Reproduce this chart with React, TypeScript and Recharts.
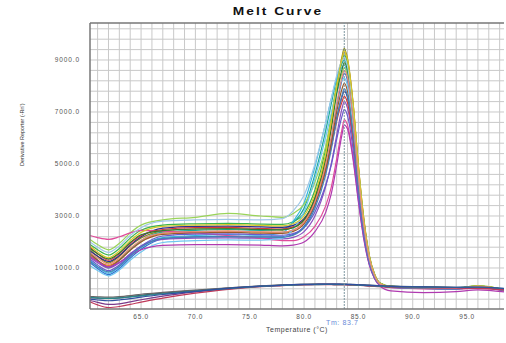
import React from 'react';
import {
  LineChart,
  Line,
  XAxis,
  YAxis,
  ReferenceLine,
} from 'recharts';

// temperature steps (°C) shared by every well
const temps = [
  60.3, 61, 62, 63, 64, 65, 67, 70, 73, 76, 78, 79, 80, 81, 82, 82.5, 83, 83.5,
  83.7, 84, 84.5, 85, 85.5, 86, 86.5, 87, 88, 91, 94, 96, 98.4,
];

// derivative reporter per well, sample wells
const wellA1 = [1700, 1450, 1200, 1450, 1850, 2150, 2420, 2500, 2520, 2480, 2470, 2560, 2850, 3700, 5300, 6600, 8000, 9150, 9450, 9050, 7400, 4950, 2900, 1500, 760, 420, 290, 250, 230, 300, 170];
const wellA2 = [1500, 1280, 1100, 1330, 1700, 2020, 2330, 2400, 2420, 2380, 2370, 2460, 2760, 3600, 5150, 6450, 7900, 9000, 9300, 8950, 7350, 4900, 2850, 1450, 720, 400, 270, 230, 210, 280, 150];
const wellA3 = [1900, 1700, 1500, 1750, 2150, 2450, 2650, 2700, 2720, 2690, 2680, 2780, 3100, 4000, 5600, 6800, 8050, 8950, 9200, 8850, 7200, 4800, 2800, 1450, 730, 410, 300, 260, 240, 310, 180];
const wellA4 = [1600, 1300, 1000, 1300, 1700, 2050, 2380, 2450, 2480, 2450, 2500, 2750, 3300, 4600, 6300, 7300, 8300, 8880, 9000, 8650, 7000, 4650, 2700, 1400, 700, 390, 280, 240, 220, 290, 160];
const wellA5 = [1300, 1050, 800, 1050, 1450, 1800, 2170, 2250, 2280, 2260, 2350, 2800, 3500, 4900, 6600, 7500, 8300, 8730, 8800, 8450, 6850, 4550, 2650, 1380, 690, 380, 270, 230, 210, 280, 150];
const wellA6 = [2100, 1900, 1700, 1950, 2350, 2650, 2850, 2950, 3100, 3000, 2950, 3100, 3450, 4300, 5700, 6700, 7800, 8500, 8700, 8400, 6800, 4500, 2600, 1350, 680, 380, 280, 250, 230, 300, 170];
const wellB1 = [1200, 980, 750, 980, 1380, 1720, 2120, 2200, 2220, 2200, 2200, 2290, 2600, 3400, 4800, 5900, 7200, 8250, 8500, 8200, 6650, 4400, 2550, 1320, 660, 370, 260, 220, 200, 270, 140];
const wellB2 = [1650, 1450, 1250, 1480, 1880, 2200, 2530, 2600, 2610, 2580, 2560, 2640, 2900, 3600, 4800, 5700, 6750, 7600, 7800, 7550, 6150, 4100, 2400, 1250, 640, 370, 270, 240, 220, 290, 160];
const wellB3 = [1400, 1200, 1000, 1200, 1550, 1850, 2100, 2150, 2160, 2140, 2120, 2180, 2400, 3000, 4150, 5000, 6100, 7150, 7400, 7150, 5850, 3900, 2300, 1200, 620, 360, 250, 220, 200, 260, 140];
const wellB4 = [2250, 2170, 2100, 2200, 2350, 2450, 2420, 2350, 2250, 2150, 2050, 2050, 2200, 2600, 3400, 4100, 5200, 6350, 6700, 6500, 5300, 3600, 2150, 1150, 600, 350, 240, 200, 180, 240, 120];
const wellB5 = [1800, 1550, 1300, 1550, 1950, 2250, 2480, 2550, 2560, 2520, 2500, 2580, 2850, 3550, 4750, 5650, 6650, 7400, 7600, 7350, 6000, 4000, 2350, 1220, 630, 360, 260, 230, 210, 280, 150];
const wellB6 = [1550, 1300, 1050, 1300, 1680, 2000, 2290, 2350, 2370, 2340, 2330, 2410, 2700, 3450, 4800, 5800, 7000, 7900, 8100, 7800, 6350, 4250, 2480, 1290, 650, 370, 260, 230, 210, 280, 150];
const wellC1 = [1100, 900, 700, 920, 1300, 1620, 1980, 2050, 2080, 2070, 2150, 2500, 3150, 4450, 6050, 6950, 7750, 8230, 8300, 8000, 6500, 4300, 2500, 1300, 650, 370, 260, 220, 200, 270, 140];
const wellC2 = [1450, 1250, 1050, 1220, 1480, 1700, 1870, 1900, 1900, 1880, 1850, 1880, 2000, 2400, 3150, 3850, 4950, 6150, 6500, 6350, 5200, 3550, 2100, 1120, 580, 300, 120, 50, 90, 160, 80];
const wellC3 = [1750, 1550, 1350, 1580, 1980, 2280, 2440, 2500, 2510, 2480, 2470, 2550, 2850, 3700, 5200, 6350, 7700, 8650, 8900, 8600, 7000, 4700, 2750, 1420, 710, 400, 280, 250, 230, 300, 170];
const wellC4 = [2000, 1800, 1600, 1850, 2250, 2550, 2800, 2850, 2870, 2850, 2900, 3200, 3800, 5000, 6600, 7500, 8400, 8980, 9100, 8750, 7100, 4750, 2750, 1420, 710, 400, 280, 240, 220, 290, 160];
const wellC5 = [1350, 1120, 900, 1120, 1520, 1850, 2230, 2300, 2310, 2280, 2260, 2320, 2550, 3150, 4200, 4950, 5950, 6850, 7100, 6850, 5600, 3750, 2220, 1170, 610, 360, 250, 220, 200, 260, 130];
const wellC6 = [1850, 1620, 1400, 1650, 2050, 2370, 2600, 2650, 2670, 2640, 2620, 2700, 3000, 3850, 5400, 6650, 8000, 9050, 9350, 9000, 7350, 4900, 2850, 1480, 740, 410, 290, 260, 240, 310, 180];
const wellD1 = [1250, 1050, 850, 1070, 1460, 1800, 2140, 2200, 2210, 2190, 2180, 2260, 2550, 3300, 4600, 5550, 6700, 7650, 7900, 7600, 6200, 4150, 2420, 1260, 640, 370, 260, 220, 200, 270, 140];
const wellD2 = [1600, 1380, 1150, 1380, 1760, 2070, 2340, 2400, 2420, 2390, 2380, 2460, 2760, 3550, 5000, 6050, 7300, 8350, 8600, 8300, 6750, 4500, 2620, 1360, 680, 380, 270, 240, 220, 290, 160];

// no-template controls
const ntc1 = [-150, -160, -170, -150, -100, -50, 30, 130, 230, 300, 340, 360, 370, 380, 385, 385, 380, 380, 380, 375, 370, 360, 350, 340, 330, 320, 300, 280, 260, 250, 200];
const ntc2 = [-100, -110, -120, -100, -60, -10, 60, 150, 240, 310, 350, 365, 375, 380, 380, 380, 375, 370, 370, 365, 360, 350, 340, 330, 320, 310, 290, 270, 250, 240, 190];
const ntc3 = [-250, -320, -400, -380, -300, -220, -80, 80, 200, 290, 330, 350, 360, 365, 370, 370, 370, 365, 365, 360, 350, 340, 330, 310, 300, 290, 270, 250, 240, 230, 180];
const ntc4 = [-300, -420, -520, -480, -400, -310, -160, 30, 180, 280, 320, 340, 350, 355, 355, 355, 350, 350, 350, 345, 340, 330, 320, 300, 290, 280, 260, 240, 230, 220, 160];
const ntc5 = [-130, -150, -170, -150, -110, -70, 10, 110, 210, 290, 330, 345, 355, 360, 365, 365, 360, 360, 360, 355, 350, 340, 330, 320, 310, 300, 280, 260, 250, 260, 210];
const ntc6 = [-200, -230, -260, -230, -180, -120, -20, 100, 220, 300, 345, 360, 370, 375, 380, 380, 378, 375, 375, 370, 365, 355, 345, 335, 325, 315, 295, 275, 260, 270, 220];

const wells = [
  wellA1, wellA2, wellA3, wellA4, wellA5, wellA6,
  wellB1, wellB2, wellB3, wellB4, wellB5, wellB6,
  wellC1, wellC2, wellC3, wellC4, wellC5, wellC6,
  wellD1, wellD2,
  ntc1, ntc2, ntc3, ntc4, ntc5, ntc6,
];

const wellColors = [
  '#8a8a1e', '#e08a1a', '#3cb44b', '#1fa89a', '#35b8e0', '#9ad45a',
  '#2f6fd0', '#2b2f8f', '#8a4fc0', '#e04a9a', '#d23a3a', '#9a5a2a',
  '#6ec6f0', '#b03ab0', '#2e7d32', '#9ec8e8', '#6a5acd', '#d8c82a',
  '#4682b4', '#e88a7a',
  '#3a4a6a', '#666666', '#7a3a8a', '#c03a5a', '#2a8a8a', '#3050a0',
];

const tempTicks = [65, 70, 75, 80, 85, 90, 95];
const rnTicks = [1000, 3000, 5000, 7000, 9000];
const tempGrid = [61, 62, 63, 64, 65, 66, 67, 68, 69, 70, 71, 72, 73, 74, 75, 76, 77, 78, 79, 80, 81, 82, 83, 84, 85, 86, 87, 88, 89, 90, 91, 92, 93, 94, 95, 96, 97, 98];
const rnGrid = [-200, 200, 600, 1000, 1400, 1800, 2200, 2600, 3000, 3400, 3800, 4200, 4600, 5000, 5400, 5800, 6200, 6600, 7000, 7400, 7800, 8200, 8600, 9000, 9400, 9800, 10200];
const tm = 83.7;

const X_DOMAIN: [number, number] = [60.3, 98.4];
const Y_DOMAIN: [number, number] = [-577, 10423];

const rows = temps.map((t, i) => {
  const row: Record<string, number> = { t };
  wells.forEach((w, k) => {
    row[`w${k}`] = w[i];
  });
  return row;
});

const font = '"Liberation Sans", Arial, sans-serif';

const TmLabel = (props: any) => {
  const { viewBox } = props;
  if (!viewBox) return null;
  return (
    <text
      x={viewBox.x - 2}
      y={viewBox.y + viewBox.height + 16}
      textAnchor="middle"
      fill="#6a8ad8"
      fontSize={7}
      letterSpacing={0.6}
      fontFamily={font}
    >
      {`Tm: ${tm}`}
    </text>
  );
};

export default function App() {
  return (
    <div style={{ position: 'relative', width: 506, height: 343, background: '#fff' }}>
      <style>{'body{margin:0}'}</style>
      <div
        style={{
          position: 'absolute',
          left: 0,
          top: 4,
          width: 556,
          textAlign: 'center',
          fontFamily: font,
          fontWeight: 'bold',
          fontSize: 11,
          letterSpacing: 1.6,
          color: '#111',
          transform: 'scaleX(1.25)',
          transformOrigin: '278px 0',
          lineHeight: '14px',
        }}
      >
        Melt Curve
      </div>
      <LineChart
        width={506}
        height={343}
        data={rows}
        margin={{ top: 23, right: 2, bottom: 0, left: 0 }}
      >
        {/* fine grid: one line per degree and per 400 units */}
        {tempGrid.map((v) => (
          <ReferenceLine key={`gx${v}`} x={v} stroke="#c9c9c9" strokeWidth={1} />
        ))}
        {rnGrid.map((v) => (
          <ReferenceLine key={`gy${v}`} y={v} stroke="#c9c9c9" strokeWidth={1} />
        ))}
        <XAxis
          dataKey="t"
          type="number"
          domain={X_DOMAIN}
          allowDataOverflow
          ticks={tempTicks}
          tickFormatter={(v: number) => v.toFixed(1)}
          height={34}
          tickSize={0}
          tickMargin={5}
          axisLine={{ stroke: '#777', strokeWidth: 1.5 }}
          tick={{ fontSize: 6.5, fill: '#555', fontFamily: font, letterSpacing: 0.7 }}
          label={{
            value: 'Temperature (°C)',
            position: 'insideBottom',
            offset: 11,
            fontSize: 7,
            fill: '#444',
            fontFamily: font,
            letterSpacing: 0.5,
          }}
        />
        <YAxis
          type="number"
          domain={Y_DOMAIN}
          allowDataOverflow
          ticks={rnTicks}
          tickFormatter={(v: number) => v.toFixed(1)}
          width={90}
          tickSize={0}
          tickMargin={10}
          axisLine={{ stroke: '#777', strokeWidth: 1.5 }}
          tick={{ fontSize: 6.5, fill: '#555', fontFamily: font, letterSpacing: 0.9 }}
          label={{
            value: "Derivative Reporter (-Rn')",
            angle: -90,
            position: 'insideLeft',
            offset: 22,
            fontSize: 5.5,
            fill: '#333',
            fontFamily: font,
          }}
        />
        <ReferenceLine y={Y_DOMAIN[1]} stroke="#777" strokeWidth={1.5} />
        {wells.map((_, k) => (
          <Line
            key={k}
            dataKey={`w${k}`}
            type="monotone"
            stroke={wellColors[k]}
            strokeWidth={1.2}
            dot={false}
            activeDot={false}
            isAnimationActive={false}
          />
        ))}
        <ReferenceLine
          x={tm}
          stroke="#7f97a0"
          strokeWidth={1}
          strokeDasharray="2 1"
          label={<TmLabel />}
        />
      </LineChart>
    </div>
  );
}
